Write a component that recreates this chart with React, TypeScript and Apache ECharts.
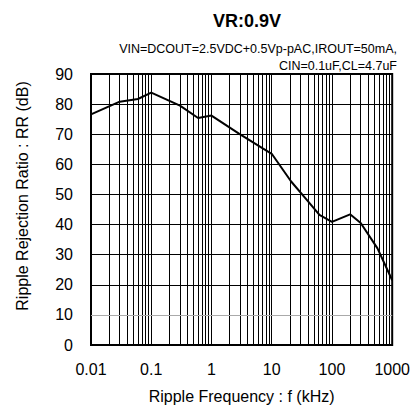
import React, { useEffect, useRef } from "react";
import * as echarts from "echarts";

const freqKHz = [0.01, 0.03, 0.06, 0.1, 0.3, 0.6, 1, 2.9, 7.1, 10, 21, 37, 62, 100, 200, 300, 570, 1000];
const rrDB = [76.6, 80.8, 81.7, 83.8, 79.5, 75.4, 76.2, 70.1, 65.3, 63.5, 54.3, 48.5, 43.2, 40.9, 43.4, 40.5, 32.1, 21.5];
const decades = [0.01, 0.1, 1, 10, 100];
const minorMultipliers = [2, 3, 4, 5, 6, 7, 8, 9];
const yTicks = [0, 10, 20, 30, 40, 50, 60, 70, 80, 90];

const titleText = "VR:0.9V";
const condLine1 = "VIN=DCOUT=2.5VDC+0.5Vp-pAC,IROUT=50mA,";
const condLine2 = "CIN=0.1uF,CL=4.7uF";
const xName = "Ripple Frequency : f (kHz)";
const yName = "Ripple Rejection Ratio : RR (dB)";

export default function App() {
  const ref = useRef<HTMLDivElement>(null);
  useEffect(() => {
    if (!ref.current) return;
    const chart = echarts.init(ref.current, null, { renderer: "svg" });
    const minorLines: { xAxis: number }[] = [];
    decades.forEach((d) => minorMultipliers.forEach((m) => minorLines.push({ xAxis: +(d * m).toPrecision(3) })));
    const hLines = yTicks.slice(1, -1).map((v) => ({
      yAxis: v,
      lineStyle: { color: v === 10 ? "#aaaaaa" : "#000", width: 1, type: "solid" as const },
    }));
    const font = "'Liberation Sans', Arial, sans-serif";
    chart.setOption({
      animation: false,
      backgroundColor: "#fff",
      textStyle: { fontFamily: font },
      grid: {
        left: 91,
        top: 74,
        width: 302,
        height: 271,
        show: true,
        borderColor: "#000",
        borderWidth: 2,
        backgroundColor: "transparent",
      },
      title: {
        text: titleText,
        left: 242,
        top: 7,
        textAlign: "center",
        textStyle: { fontFamily: font, fontSize: 18, fontWeight: "bold", color: "#000" },
      },
      graphic: [
        {
          type: "text",
          right: 16,
          top: 42,
          style: { text: condLine1, fontFamily: font, fontSize: 12.5, fill: "#000" },
        },
        {
          type: "text",
          right: 16,
          top: 59,
          style: { text: condLine2, fontFamily: font, fontSize: 12.5, fill: "#000" },
        },
        {
          type: "text",
          x: 22,
          y: 196,
          rotation: Math.PI / 2,
          style: {
            text: yName,
            fontFamily: font,
            fontSize: 16,
            fill: "#000",
            align: "center",
            verticalAlign: "middle",
          },
        },
      ],
      xAxis: {
        type: "log",
        logBase: 10,
        min: 0.01,
        max: 1000,
        name: xName,
        nameLocation: "middle",
        nameGap: 43,
        nameTextStyle: { fontFamily: font, fontSize: 16, color: "#000" },
        axisLine: { show: false },
        axisTick: { show: false },
        axisLabel: {
          fontFamily: font,
          fontSize: 16,
          color: "#000",
          margin: 16,
          formatter: (v: number) => String(+v.toPrecision(3)),
        },
        splitLine: { show: true, lineStyle: { color: "#000", width: 1 } },
      },
      yAxis: {
        type: "value",
        min: 0,
        max: 90,
        interval: 10,
        axisLine: { show: false },
        axisTick: { show: false },
        axisLabel: { fontFamily: font, fontSize: 16, color: "#000", margin: 18 },
        splitLine: { show: false },
      },
      series: [
        {
          type: "line",
          data: freqKHz.map((f, i) => [f, rrDB[i]]),
          symbol: "none",
          lineStyle: { color: "#000", width: 2 },
          z: 5,
          markLine: {
            silent: true,
            symbol: ["none", "none"],
            label: { show: false },
            lineStyle: { color: "#000", width: 1, type: "solid" },
            data: [...minorLines, ...hLines],
            z: 1,
          },
        },
      ],
    });
    return () => chart.dispose();
  }, []);
  return (
    <div
      ref={ref}
      style={{ position: "fixed", left: 0, top: 0, width: 413, height: 417 }}
    />
  );
}
